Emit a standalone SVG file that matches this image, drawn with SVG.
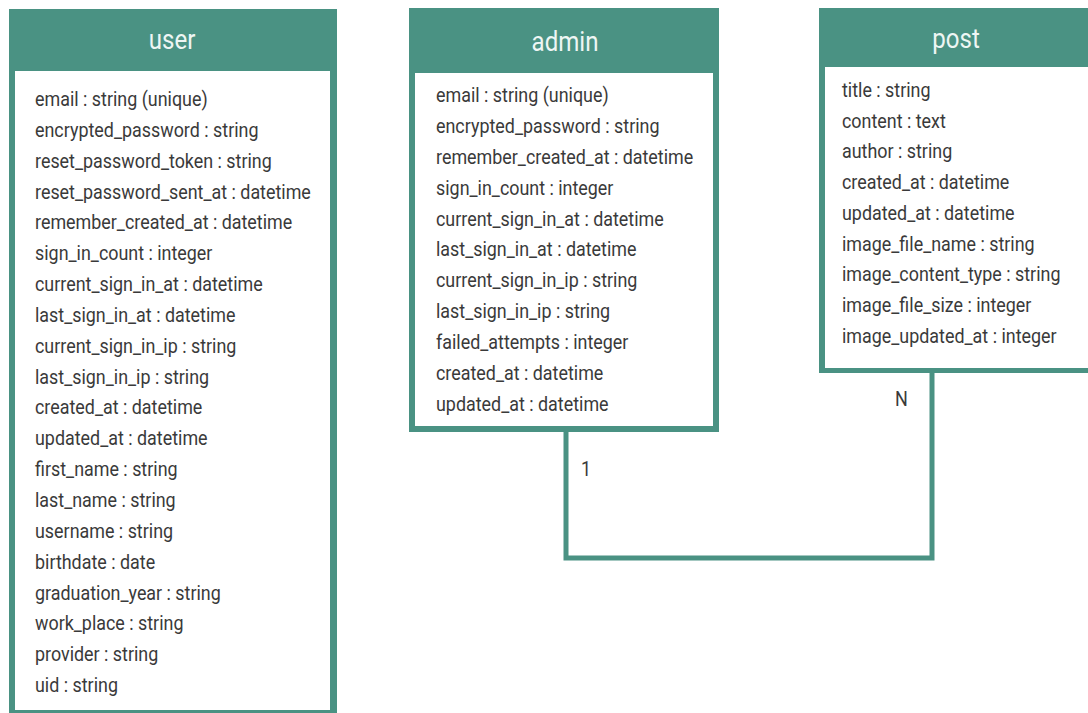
<svg xmlns="http://www.w3.org/2000/svg" width="1088" height="713" viewBox="0 0 1088 713">
<style>
.frame{fill:#4a9283}
.body{fill:#ffffff}
.title{font-family:Roboto,"Liberation Sans",sans-serif;font-size:28px;fill:#eef6f4;text-anchor:middle}
.attr{font-family:Roboto,"Liberation Sans",sans-serif;font-size:20px;fill:#3a3a3a}
.lbl{font-family:Roboto,"Liberation Sans",sans-serif;font-size:20px;fill:#3a3a3a}
.conn{fill:none;stroke:#4a9283;stroke-width:5}
</style>
<rect width="1088" height="713" fill="#ffffff"/>
<g id="connectors">
<path class="conn" d="M566,430 V558 H932 V371"/>
<g transform="translate(581,476) scale(0.9,1)"><text class="lbl" x="0" y="0">1</text></g>
<g transform="translate(895,406) scale(0.9,1)"><text class="lbl" x="0" y="0">N</text></g>
</g>
<g id="user">
<rect class="frame" x="9" y="9" width="328" height="712"/>
<rect class="body" x="15" y="71" width="315" height="639"/>
<g transform="translate(172,49) scale(0.86,1)"><text class="title" x="0" y="0">user</text></g>
<g transform="translate(35,-1) scale(0.895,1)">
<text class="attr" x="0" y="107">email : string (unique)</text>
<text class="attr" x="0" y="138">encrypted_password : string</text>
<text class="attr" x="0" y="169">reset_password_token : string</text>
<text class="attr" x="0" y="200">reset_password_sent_at : datetime</text>
<text class="attr" x="0" y="230">remember_created_at : datetime</text>
<text class="attr" x="0" y="261">sign_in_count : integer</text>
<text class="attr" x="0" y="292">current_sign_in_at : datetime</text>
<text class="attr" x="0" y="323">last_sign_in_at : datetime</text>
<text class="attr" x="0" y="354">current_sign_in_ip : string</text>
<text class="attr" x="0" y="385">last_sign_in_ip : string</text>
<text class="attr" x="0" y="415">created_at : datetime</text>
<text class="attr" x="0" y="446">updated_at : datetime</text>
<text class="attr" x="0" y="477">first_name : string</text>
<text class="attr" x="0" y="508">last_name : string</text>
<text class="attr" x="0" y="539">username : string</text>
<text class="attr" x="0" y="570">birthdate : date</text>
<text class="attr" x="0" y="601">graduation_year : string</text>
<text class="attr" x="0" y="631">work_place : string</text>
<text class="attr" x="0" y="662">provider : string</text>
<text class="attr" x="0" y="693">uid : string</text>
</g>
</g>
<g id="admin">
<rect class="frame" x="409" y="8" width="310" height="424"/>
<rect class="body" x="415" y="73" width="298" height="353"/>
<g transform="translate(565,51) scale(0.86,1)"><text class="title" x="0" y="0">admin</text></g>
<g transform="translate(436,0) scale(0.895,1)">
<text class="attr" x="0" y="102">email : string (unique)</text>
<text class="attr" x="0" y="133">encrypted_password : string</text>
<text class="attr" x="0" y="164">remember_created_at : datetime</text>
<text class="attr" x="0" y="195">sign_in_count : integer</text>
<text class="attr" x="0" y="226">current_sign_in_at : datetime</text>
<text class="attr" x="0" y="256">last_sign_in_at : datetime</text>
<text class="attr" x="0" y="287">current_sign_in_ip : string</text>
<text class="attr" x="0" y="318">last_sign_in_ip : string</text>
<text class="attr" x="0" y="349">failed_attempts : integer</text>
<text class="attr" x="0" y="380">created_at : datetime</text>
<text class="attr" x="0" y="411">updated_at : datetime</text>
</g>
</g>
<g id="post">
<rect class="frame" x="819" y="8" width="280" height="365"/>
<rect class="body" x="825" y="67" width="270" height="301"/>
<g transform="translate(956,48) scale(0.86,1)"><text class="title" x="0" y="0">post</text></g>
<g transform="translate(842,0) scale(0.895,1)">
<text class="attr" x="0" y="97">title : string</text>
<text class="attr" x="0" y="128">content : text</text>
<text class="attr" x="0" y="158">author : string</text>
<text class="attr" x="0" y="189">created_at : datetime</text>
<text class="attr" x="0" y="220">updated_at : datetime</text>
<text class="attr" x="0" y="251">image_file_name : string</text>
<text class="attr" x="0" y="281">image_content_type : string</text>
<text class="attr" x="0" y="312">image_file_size : integer</text>
<text class="attr" x="0" y="343">image_updated_at : integer</text>
</g>
</g>
</svg>
